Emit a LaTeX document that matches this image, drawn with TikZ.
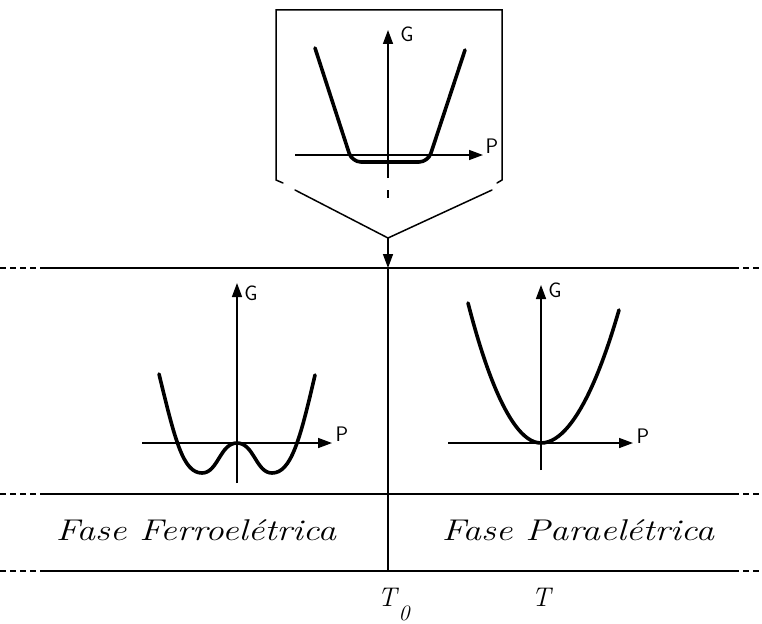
\documentclass[tikz,border=0pt]{standalone}
\usepackage{fontspec}
\usepackage{tikz}
\usetikzlibrary{arrows.meta}
\tikzset{
  frame/.style={line width=1.5pt,line cap=round},
  limit/.style={line width=1.6pt},
  tail/.style={limit,dash pattern=on 6pt off 4pt},
  axis/.style={line width=1.5pt,-{Triangle[length=14pt,width=10pt]}},
  curve/.style={line width=3.6pt,line cap=round,line join=round},
  lbl/.style={font=\sffamily\fontsize{21}{23}\selectfont,inner sep=0pt},
  fase/.style={font=\itshape\fontsize{30}{34}\selectfont,inner sep=0pt},
  temp/.style={font=\itshape\fontsize{27}{29}\selectfont,inner sep=0pt}
}
\newcommand{\wide}[1]{\scalebox{1.23}[1]{#1}}
\begin{document}
\begin{tikzpicture}[x=1pt,y=-1pt]
\useasboundingbox (0,0) rectangle (762,623);
% phase boundaries
\foreach \yy in {268,494,571}{
  \draw[tail] (0,\yy) -- (46,\yy);
  \draw[limit] (46,\yy) -- (733,\yy);
  \draw[tail] (733,\yy) -- (762,\yy);
}
% top box (T = T0)
\draw[frame] (283,183) -- (276,180) -- (276,10) -- (502,10) -- (502,180) -- (497,183);
\coordinate (vtip) at (388,238);
\draw[frame] (295,190) -- (vtip) -- (492,190);
\coordinate (vhit) at (388,268);
\coordinate (vbot) at (388,571);
\draw[axis] (vtip) -- (vhit);
\draw[limit] (vhit) -- (vbot);
% top graph
\draw[axis] (388,178) -- (388,30);
\draw[line width=1.5pt] (388,190) -- (388,198);
\draw[axis] (295,155) -- (483,155);
\draw[curve,rounded corners=9pt] (315,48) -- (352,162) -- (428,162) -- (465,50);
\node[lbl] (gtop) at (407,34) {G};
\node[lbl] (ptop) at (492,146) {P};
% ferroelectric phase
\draw[axis] (237,483) -- (237,283);
\draw[axis] (142,443) -- (332,443);
\draw[curve] (159,374) .. controls (175,440) and (183,473) .. (202,473)
  .. controls (218,473) and (220,443) .. (237,443)
  .. controls (254,443) and (256,473) .. (272,473)
  .. controls (291,473) and (300,440) .. (315,375);
\node[lbl] (gferro) at (251,293) {G};
\node[lbl] (pferro) at (342,434) {P};
% paraelectric phase
\draw[axis] (541,470) -- (541,285);
\draw[axis] (448,443) -- (633,443);
\draw[curve] (468,303) parabola bend (541,443) (619,310);
\node[lbl] (gpara) at (555,290) {G};
\node[lbl] (ppara) at (643,436) {P};
% phase names
\node[fase] (ferro) at (196,530) {\wide{Fase Ferroelétrica}};
\node[fase] (para) at (578,530) {\wide{Fase Paraelétrica}};
\node[temp] (tzero) at (387,597) {T};
\node[temp,font=\itshape\fontsize{22}{24}\selectfont] (tsub) at (404,613) {0};
\node[temp] (tcur) at (541,597) {T};
\end{tikzpicture}
\end{document}
